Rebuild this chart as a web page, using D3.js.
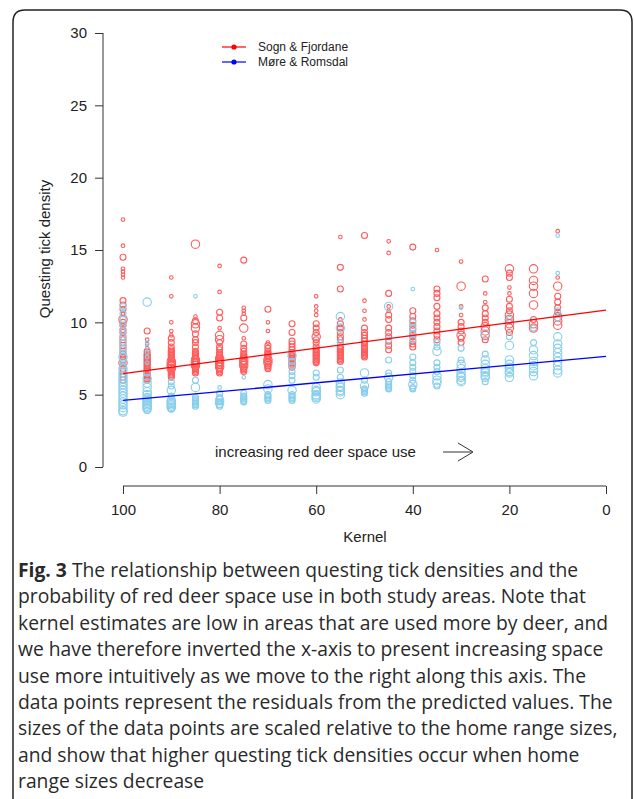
<!DOCTYPE html>
<html>
<head>
<meta charset="utf-8">
<script src="https://cdnjs.cloudflare.com/ajax/libs/d3/7.8.5/d3.min.js"></script>
<style>
  body { margin: 0; background: #fff; }
</style>
</head>
<body>
<div id="chart"></div>
<script>
// axis ticks
var yTicks = [0, 5, 10, 15, 20, 25, 30];
var xTicks = [100, 80, 60, 40, 20, 0];

// legend entries
var seriesNames = ["Sogn & Fjordane", "Møre & Romsdal"];

// fitted lines [kernel, density]
var sognLine = [[100, 6.45], [0, 10.85]];
var moreLine = [[100, 4.6], [0, 7.65]];

// residual points [kernel, density, home range size class]
var sognPoints = [
  [100,17.1,1],[100,15.3,1],[100,14.5,2],[100,13.7,1],[100,13.5,1],[100,13.3,1],[100,13.1,1],
  [100,11.5,2],[100,11.2,2],[100,10.9,2],[100,10.6,1],[100,10.2,3],[100,10.0,2],[100,9.8,2],[100,9.5,2],
  [100,9.3,2],[100,9.0,2],[100,8.8,2],[100,8.6,2],[100,8.4,2],[100,8.2,2],[100,8.0,2],[100,7.8,2],
  [100,7.6,2],[100,7.4,2],[100,7.2,3],[100,7.0,2],[100,6.8,2],[100,6.6,2],[100,6.4,2],[100,6.2,2],[100,6.0,2],
  [95,9.4,2],[95,8.8,1],[95,8.5,1],[95,8.2,1],[95,8.0,2],[95,7.8,2],[95,7.7,2],[95,7.6,2],[95,7.5,2],[95,7.4,2],
  [95,7.3,2],[95,7.2,2],[95,7.1,2],[95,7.0,2],[95,6.9,2],[95,6.8,2],[95,6.7,2],[95,6.6,2],[95,6.5,2],[95,6.4,2],
  [95,6.3,2],[95,6.2,2],[95,6.1,2],[95,6.0,2],
  [90,13.1,1],[90,11.8,1],[90,10.0,1],[90,9.4,1],[90,9.1,1],[90,8.9,2],[90,8.6,2],[90,8.3,2],[90,8.1,2],[90,8.0,2],
  [90,7.9,2],[90,7.8,2],[90,7.7,2],[90,7.6,2],[90,7.5,2],[90,7.4,2],[90,7.3,3],[90,7.2,2],[90,7.1,3],[90,7.0,3],
  [90,6.9,2],[90,6.8,3],[90,6.7,2],[90,6.6,2],[90,6.5,2],[90,6.4,2],[90,6.3,2],[90,6.2,2],
  [85,15.4,3],[85,10.4,1],[85,10.1,2],[85,9.9,3],[85,9.6,3],[85,9.2,2],[85,8.8,2],[85,8.6,2],[85,8.3,2],
  [85,8.0,2],[85,7.9,2],[85,7.8,2],[85,7.7,2],[85,7.6,2],[85,7.5,2],[85,7.4,3],[85,7.3,2],[85,7.2,3],
  [85,7.1,2],[85,7.0,3],[85,6.9,2],[85,6.8,2],[85,6.7,2],[85,6.6,2],[85,6.5,2],
  [80,13.9,1],[80,12.1,1],[80,10.7,2],[80,10.3,2],[80,9.6,1],[80,9.1,3],[80,8.8,3],[80,8.6,2],[80,8.3,2],
  [80,8.1,2],[80,7.9,2],[80,7.8,2],[80,7.7,2],[80,7.6,2],[80,7.5,3],[80,7.4,2],[80,7.3,3],[80,7.2,2],
  [80,7.1,3],[80,7.0,2],[80,6.9,3],[80,6.8,2],[80,6.7,2],[80,6.6,2],[80,6.5,2],
  [75,14.3,2],[75,11.0,1],[75,10.8,1],[75,10.6,1],[75,10.3,2],[75,9.6,3],[75,8.9,1],[75,8.5,2],[75,8.2,2],
  [75,8.0,2],[75,7.8,2],[75,7.7,2],[75,7.6,2],[75,7.5,2],[75,7.4,3],[75,7.3,2],[75,7.2,3],[75,7.1,2],
  [75,7.0,3],[75,6.9,2],[75,6.8,2],[75,6.7,2],[75,6.6,2],
  [70,10.9,2],[70,10.0,1],[70,9.4,1],[70,8.6,1],[70,8.4,2],[70,8.2,2],[70,8.0,2],[70,7.9,2],[70,7.8,2],
  [70,7.7,2],[70,7.6,2],[70,7.5,2],[70,7.4,3],[70,7.3,2],[70,7.2,3],[70,7.1,2],[70,7.0,2],[70,6.9,2],[70,6.8,2],
  [65,9.9,2],[65,9.3,2],[65,8.7,2],[65,8.5,2],[65,8.3,2],[65,8.1,2],[65,7.9,2],[65,7.8,2],[65,7.7,2],
  [65,7.6,2],[65,7.5,2],[65,7.4,2],[65,7.3,2],[65,7.2,2],[65,7.1,2],[65,7.0,2],[65,6.9,2],
  [60,11.8,1],[60,11.1,1],[60,10.8,1],[60,10.5,1],[60,9.9,2],[60,9.6,2],[60,9.3,2],[60,9.0,3],[60,8.8,2],
  [60,8.6,2],[60,8.3,2],[60,8.1,2],[60,8.0,2],[60,7.9,2],[60,7.8,2],[60,7.7,2],[60,7.6,2],[60,7.5,2],
  [60,7.4,2],[60,7.3,2],[60,7.2,2],
  [55,15.9,1],[55,13.8,2],[55,12.3,2],[55,10.2,1],[55,9.9,2],[55,9.6,2],[55,9.3,2],[55,9.0,2],[55,8.8,2],
  [55,8.6,2],[55,8.3,2],[55,8.2,2],[55,8.1,2],[55,8.0,2],[55,7.9,2],[55,7.8,2],[55,7.7,2],[55,7.6,2],
  [55,7.5,2],[55,7.4,2],[55,7.3,2],
  [50,16.0,2],[50,11.5,1],[50,10.8,1],[50,10.2,1],[50,9.6,2],[50,9.3,2],[50,9.1,2],[50,8.9,2],[50,8.7,2],
  [50,8.5,2],[50,8.3,2],[50,8.2,2],[50,8.1,2],[50,8.0,2],[50,7.9,2],[50,7.8,2],[50,7.7,2],[50,7.6,2],
  [45,15.6,1],[45,14.8,1],[45,12.0,2],[45,11.1,1],[45,10.8,1],[45,10.5,2],[45,10.2,2],[45,9.6,2],[45,9.3,2],
  [45,9.0,2],[45,8.7,2],[45,8.4,2],[45,8.1,2],
  [40,15.2,2],[40,10.8,2],[40,10.4,2],[40,10.1,2],[40,9.8,2],[40,9.5,2],[40,9.2,2],[40,9.0,2],[40,8.7,2],
  [40,8.5,2],[40,8.3,2],
  [35,15.0,1],[35,12.3,2],[35,12.0,2],[35,11.7,2],[35,11.1,2],[35,10.6,2],[35,10.3,2],[35,10.0,2],[35,9.7,2],
  [35,9.4,2],[35,9.1,2],[35,8.8,2],
  [30,14.2,1],[30,12.5,3],[30,11.1,1],[30,10.5,1],[30,10.0,2],[30,9.7,2],[30,9.4,2],[30,9.1,3],[30,8.9,2],[30,8.6,2],
  [25,13.0,2],[25,12.0,1],[25,11.4,1],[25,11.0,2],[25,10.6,2],[25,10.3,2],[25,10.0,2],[25,9.7,3],[25,9.4,3],
  [25,9.1,3],[25,8.8,2],
  [20,13.7,3],[20,13.4,2],[20,13.1,2],[20,12.4,1],[20,12.0,1],[20,11.6,2],[20,11.1,2],[20,10.8,2],[20,10.5,3],
  [20,10.2,3],[20,9.9,3],[20,9.6,3],[20,9.3,2],
  [15,13.7,3],[15,12.9,3],[15,12.5,3],[15,12.0,3],[15,11.2,3],[15,10.2,2],[15,9.9,3],[15,9.6,3],
  [10,16.3,1],[10,13.1,1],[10,12.5,3],[10,11.8,2],[10,11.4,2],[10,11.0,2],[10,10.7,2],[10,10.4,3],[10,10.1,3],[10,9.8,3]
];

var morePoints = [
  [100,11.1,2],[100,10.6,2],[100,10.2,2],[100,9.8,2],[100,9.4,2],[100,9.0,2],[100,8.6,2],[100,8.2,2],
  [100,7.9,2],[100,7.6,3],[100,7.3,2],[100,7.0,2],[100,6.8,3],[100,6.5,3],[100,6.3,3],[100,6.1,3],[100,5.9,3],
  [100,5.7,3],[100,5.5,3],[100,5.3,3],[100,5.1,3],[100,4.9,3],[100,4.7,3],[100,4.5,3],[100,4.3,3],[100,4.1,3],
  [100,3.9,3],[100,3.8,3],
  [95,11.4,3],[95,8.6,1],[95,8.3,1],[95,7.9,1],[95,7.6,1],[95,7.2,1],[95,6.5,2],[95,6.1,3],[95,5.8,3],
  [95,5.5,3],[95,5.2,3],[95,5.0,3],[95,4.8,3],[95,4.7,3],[95,4.6,3],[95,4.5,3],[95,4.4,3],[95,4.3,3],
  [95,4.2,3],[95,4.1,3],[95,4.0,3],[95,3.9,2],
  [90,5.9,2],[90,5.6,2],[90,5.3,3],[90,4.9,2],[90,4.6,3],[90,4.5,3],[90,4.4,3],[90,4.3,3],[90,4.2,3],[90,4.1,3],[90,4.0,2],
  [85,11.8,1],[85,6.0,2],[85,5.5,3],[85,4.8,2],[85,4.7,2],[85,4.6,2],[85,4.5,2],[85,4.4,2],[85,4.3,2],[85,4.2,2],
  [80,5.5,1],[80,5.1,2],[80,4.8,2],[80,4.7,2],[80,4.6,3],[80,4.5,2],[80,4.4,3],[80,4.3,2],[80,4.2,2],
  [75,6.2,1],[75,5.1,2],[75,4.9,2],[75,4.8,2],[75,4.7,2],[75,4.6,2],[75,4.5,2],
  [70,5.7,3],[70,5.4,3],[70,5.0,2],[70,4.9,2],[70,4.8,2],[70,4.7,2],[70,4.6,2],
  [65,7.7,3],[65,7.3,2],[65,7.0,2],[65,6.6,2],[65,6.3,2],[65,6.0,2],[65,5.3,3],[65,5.0,2],[65,4.9,2],
  [65,4.8,2],[65,4.7,2],[65,4.6,2],
  [60,6.5,2],[60,6.2,2],[60,5.5,3],[60,5.3,3],[60,5.2,3],[60,5.0,3],[60,4.9,3],[60,4.8,3],[60,4.7,3],
  [55,10.4,3],[55,9.6,3],[55,8.6,2],[55,6.7,2],[55,6.2,2],[55,5.8,3],[55,5.6,3],[55,5.5,3],[55,5.3,3],
  [55,5.2,3],[55,5.0,3],
  [50,6.5,3],[50,6.0,2],[50,5.6,3],[50,5.4,2],[50,5.3,2],[50,5.2,2],[50,5.1,2],
  [45,11.1,3],[45,8.8,2],[45,7.4,2],[45,6.5,2],[45,6.2,3],[45,5.9,2],[45,5.7,2],[45,5.6,2],[45,5.5,2],[45,5.4,2],
  [40,12.3,1],[40,10.0,2],[40,9.6,2],[40,9.2,2],[40,8.8,2],[40,7.6,2],[40,7.2,2],[40,6.9,2],[40,6.6,2],
  [40,6.3,2],[40,6.0,2],[40,5.7,3],[40,5.5,2],[40,5.4,2],
  [35,8.6,2],[35,8.3,2],[35,8.0,3],[35,7.2,2],[35,6.9,2],[35,6.6,2],[35,6.3,3],[35,6.0,3],[35,5.8,3],[35,5.6,2],
  [30,11.0,1],[30,8.2,2],[30,7.4,2],[30,7.1,3],[30,6.8,3],[30,6.5,3],[30,6.3,3],[30,6.2,3],[30,6.0,3],[30,5.9,3],
  [25,9.2,3],[25,7.8,2],[25,7.4,3],[25,7.1,3],[25,6.8,3],[25,6.6,3],[25,6.5,3],[25,6.3,3],[25,6.2,3],[25,5.9,2],
  [20,10.2,2],[20,9.0,2],[20,8.4,3],[20,7.4,3],[20,7.1,3],[20,6.9,3],[20,6.8,3],[20,6.6,3],[20,6.5,3],[20,6.2,3],
  [15,9.6,2],[15,8.6,2],[15,8.1,3],[15,7.7,3],[15,7.3,3],[15,7.0,3],[15,6.8,3],[15,6.6,3],[15,6.3,3],
  [10,16.0,1],[10,13.4,1],[10,10.8,2],[10,10.3,2],[10,9.0,3],[10,8.5,3],[10,8.2,3],[10,7.9,3],
  [10,7.6,3],[10,7.3,3],[10,7.0,3],[10,6.7,3],[10,6.5,3]
];

var width = 634, height = 799;
var svg = d3.select("#chart").append("svg")
  .attr("width", width)
  .attr("height", height);

// card border, rounded at the top corners
svg.append("path")
  .attr("d", "M13,805 L13,22 Q13,10 25,10 L620,10 Q632,10 632,22 L632,805")
  .attr("fill", "none")
  .attr("stroke", "#222")
  .attr("stroke-width", 1.5);

var x = d3.scaleLinear().domain([100, 0]).range([123, 606]);
var y = d3.scaleLinear().domain([0, 30]).range([467, 33]);
var r = d3.scaleLinear().domain([1, 3]).range([1.8, 4.2]);

var axisFont = "Liberation Sans, Arial, Helvetica, sans-serif";

// y axis
var yAxis = svg.append("g")
  .attr("transform", "translate(103,0)")
  .call(d3.axisLeft(y).tickValues(yTicks).tickSize(8).tickPadding(8));
yAxis.selectAll("text").style("font-size", "15px").style("font-family", axisFont).attr("fill", "#222");
yAxis.selectAll("path, line").attr("stroke", "#333");
yAxis.select(".domain").attr("d", "M0," + y(0) + "V" + y(30));

// x axis
var xAxis = svg.append("g")
  .attr("transform", "translate(0,486)")
  .call(d3.axisBottom(x).tickValues(xTicks).tickSize(8).tickPadding(10));
xAxis.selectAll("text").style("font-size", "15px").style("font-family", axisFont).attr("fill", "#222");
xAxis.selectAll("path, line").attr("stroke", "#333");
xAxis.select(".domain").attr("d", "M" + x(100) + ",0H" + x(0));

// axis titles
svg.append("text")
  .attr("x", 365).attr("y", 542)
  .attr("text-anchor", "middle")
  .style("font-family", axisFont).style("font-size", "15px")
  .attr("fill", "#222")
  .text("Kernel");

svg.append("text")
  .attr("transform", "translate(50,249) rotate(-90)")
  .attr("text-anchor", "middle")
  .style("font-family", axisFont).style("font-size", "15px")
  .attr("fill", "#222")
  .text("Questing tick density");

// points: red area first, blue drawn on top
svg.append("g").selectAll("circle")
  .data(sognPoints)
  .enter().append("circle")
    .attr("cx", function (d) { return x(d[0]); })
    .attr("cy", function (d) { return y(d[1]); })
    .attr("r", function (d) { return r(d[2]); })
    .attr("fill", "none")
    .attr("stroke", "#ff5c5c")
    .attr("stroke-width", 1.1);

svg.append("g").selectAll("circle")
  .data(morePoints)
  .enter().append("circle")
    .attr("cx", function (d) { return x(d[0]); })
    .attr("cy", function (d) { return y(d[1]); })
    .attr("r", function (d) { return r(d[2]); })
    .attr("fill", "none")
    .attr("stroke", "#87ceeb")
    .attr("stroke-width", 1.1);

// fitted lines
var line = d3.line()
  .x(function (d) { return x(d[0]); })
  .y(function (d) { return y(d[1]); });

svg.append("path").attr("d", line(sognLine))
  .attr("fill", "none").attr("stroke", "#ff0000").attr("stroke-width", 1.3);
svg.append("path").attr("d", line(moreLine))
  .attr("fill", "none").attr("stroke", "#0000ff").attr("stroke-width", 1.3);

// legend
var legendColors = ["#ff0000", "#0000ff"];
var legend = svg.selectAll(".legend")
  .data(seriesNames)
  .enter().append("g")
    .attr("transform", function (d, i) { return "translate(222," + (47 + i * 15) + ")"; });
legend.append("line")
  .attr("x1", 0).attr("x2", 24)
  .attr("stroke", function (d, i) { return legendColors[i]; })
  .attr("stroke-width", 1.2);
legend.append("circle")
  .attr("cx", 12).attr("r", 2.6)
  .attr("fill", function (d, i) { return legendColors[i]; });
legend.append("text")
  .attr("x", 36).attr("y", 4)
  .style("font-family", axisFont).style("font-size", "12px")
  .attr("fill", "#222")
  .text(function (d) { return d; });

// annotation and arrow
svg.append("text")
  .attr("x", 215).attr("y", 457)
  .style("font-family", axisFont).style("font-size", "15px")
  .attr("fill", "#222")
  .text("increasing red deer space use");
svg.append("path")
  .attr("d", "M443,452 H472 M458,443 L473,452 L458,461")
  .attr("fill", "none").attr("stroke", "#333").attr("stroke-width", 1);

// caption
var captionLines = [
  "The relationship between questing tick densities and the",
  "probability of red deer space use in both study areas. Note that",
  "kernel estimates are low in areas that are used more by deer, and",
  "we have therefore inverted the x-axis to present increasing space",
  "use more intuitively as we move to the right along this axis. The",
  "data points represent the residuals from the predicted values. The",
  "sizes of the data points are scaled relative to the home range sizes,",
  "and show that higher questing tick densities occur when home",
  "range sizes decrease"
];
var caption = svg.append("text")
  .style("font-family", "Open Sans, Noto Sans, sans-serif")
  .style("font-size", "19.3px")
  .attr("fill", "#2a2a2a");
captionLines.forEach(function (t, i) {
  var ln = caption.append("tspan").attr("x", 18).attr("y", 577 + i * 26.4);
  if (i === 0) {
    ln.append("tspan").style("font-weight", "bold").text("Fig. 3");
    ln.append("tspan").text(" " + t);
  } else {
    ln.text(t);
  }
});
</script>
</body>
</html>
